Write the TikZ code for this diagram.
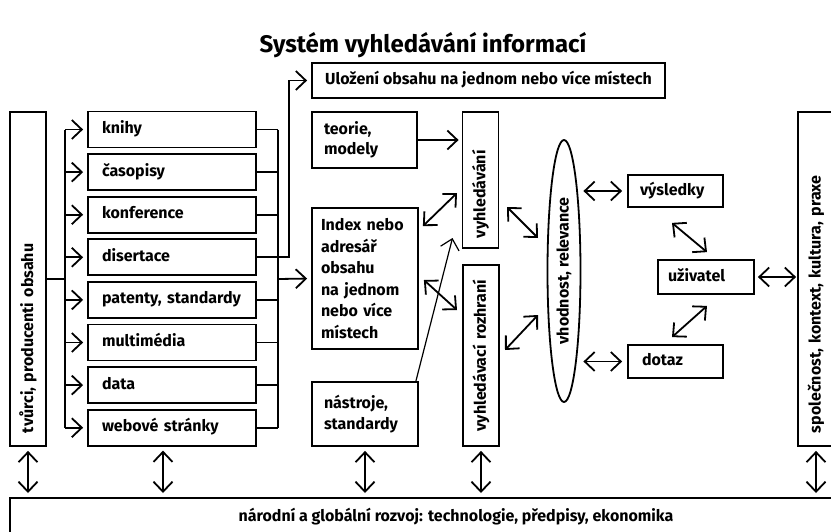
\documentclass[tikz,border=0pt]{standalone}
\usepackage{fontspec}
\setmainfont{Fira Sans}
\usetikzlibrary{arrows.meta,calc,shapes.geometric}
\pgfdeclarelayer{bg}
\pgfsetlayers{bg,main}
\tikzset{
        box/.style={draw, line width=1.8pt, inner sep=0pt, font=\bfseries\fontsize{16}{21.5}\selectfont},
        srcbox/.style={box, minimum width=168pt, minimum height=36pt, text width=140pt, inner xsep=14pt, align=left, text height=12pt, text depth=4pt},
        vbox/.style={box, rotate=90, minimum height=36pt, inner xsep=13pt, align=left},
        line/.style={line width=1.8pt},
        arr/.style={line, -{Straight Barb[length=10pt,width=19pt]}},
        dbl/.style={line, {Straight Barb[length=10pt,width=19pt]}-{Straight Barb[length=10pt,width=19pt]}}
}
\begin{document}
\begin{tikzpicture}[x=1pt, y=-1pt]
        \useasboundingbox (0,0) rectangle (831,531);
        \clip (0,0) rectangle (831,531);
        \node (title) [font=\bfseries\fontsize{24}{28}\selectfont] at (423,45) {Systém vyhledávání informací};
        \node (tvurci) [vbox, minimum width=334pt, text width=308pt] at (28,279) {tvůrci, producenti obsahu};
        \node (knihy) [srcbox] at (172,129.5) {knihy};
        \node (casop) [srcbox] at (172,172.1) {časopisy};
        \node (konf) [srcbox] at (172,214.7) {konference};
        \node (dis) [srcbox] at (172,257.3) {disertace};
        \node (pat) [srcbox] at (172,299.9) {patenty, standardy};
        \node (multi) [srcbox] at (172,342.5) {multimédia};
        \node (data) [srcbox] at (172,385.1) {data};
        \node (web) [srcbox] at (172,427.7) {webové stránky};
        \coordinate (lbus) at (65,279);
        \coordinate (rbus) at (278,279);
        \node (uloz) [box, minimum width=353pt, minimum height=35pt, text height=12pt, text depth=4pt] at (488.5,80.5) {Uložení obsahu na jednom nebo více místech};
        \node (teorie) [box, minimum width=105pt, minimum height=56pt, text width=81pt, inner xsep=12pt, align=left, font=\bfseries\fontsize{16}{19.5}\selectfont] at (364.5,140) {teorie,\\modely};
        \node (index) [box, minimum width=106pt, minimum height=141pt, text width=88pt, inner xsep=9pt, align=left] at (365,278.5) {Index nebo\\adresář\\obsahu\\na jednom\\nebo více\\místech};
        \node (nast) [box, minimum width=106pt, minimum height=64pt, text width=82pt, inner xsep=12pt, align=left] at (365,414) {nástroje,\\standardy};
        \node (vyhl) [vbox, minimum width=136pt, text width=116pt, inner xsep=10pt] at (480.5,180) {vyhledávání};
        \node (rozhr) [vbox, minimum width=181pt, text width=155pt, align=center] at (481,355.5) {vyhledávací rozhraní};
        \node (vhod) [box, ellipse, rotate=90, minimum width=262pt, minimum height=33pt] at (564,271) {vhodnost, relevance};
        \node (vys) [box, minimum width=95pt, minimum height=32pt, text width=71pt, inner xsep=12pt, align=left, text height=12pt, text depth=4pt] at (675.5,191) {výsledky};
        \node (uziv) [box, minimum width=96pt, minimum height=34pt, text width=76pt, inner xsep=10pt, align=left, text height=12pt, text depth=4pt] at (706,277) {uživatel};
        \node (dotaz) [box, minimum width=95pt, minimum height=33pt, text width=67pt, inner xsep=14pt, align=left, text height=12pt, text depth=4pt] at (675.5,361.5) {dotaz};
        \node (spol) [vbox, minimum width=334pt, text width=308pt] at (816,279) {společnost, kontext, kultura, praxe};
        \node (rozvoj) [box, anchor=north, minimum width=892pt, inner ysep=6pt, text height=18pt, text depth=40pt] at (456,497) {národní a globální rozvoj: technologie, předpisy, ekonomika};
        \begin{pgfonlayer}{bg}
                \draw[line] (tvurci.south) -- (lbus);
                \draw[line] (lbus |- knihy.west) -- (lbus |- web.west);
                \draw[arr, shorten >=4pt] (lbus |- knihy.west) -- (knihy.west);
                \draw[arr, shorten >=4pt] (lbus |- casop.west) -- (casop.west);
                \draw[arr, shorten >=4pt] (lbus |- konf.west) -- (konf.west);
                \draw[arr, shorten >=4pt] (lbus |- dis.west) -- (dis.west);
                \draw[arr, shorten >=4pt] (lbus |- pat.west) -- (pat.west);
                \draw[arr, shorten >=4pt] (lbus |- multi.west) -- (multi.west);
                \draw[arr, shorten >=4pt] (lbus |- data.west) -- (data.west);
                \draw[arr, shorten >=4pt] (lbus |- web.west) -- (web.west);
                \draw[line] (knihy.east) -- (rbus |- knihy.east);
                \draw[line] (casop.east) -- (rbus |- casop.east);
                \draw[line] (konf.east) -- (rbus |- konf.east);
                \draw[line] (pat.east) -- (rbus |- pat.east);
                \draw[line] (multi.east) -- (rbus |- multi.east);
                \draw[line] (data.east) -- (rbus |- data.east);
                \draw[line] (web.east) -- (rbus |- web.east);
                \draw[line] (rbus |- knihy.east) -- (rbus |- web.east);
                \draw[arr, shorten >=4pt] (rbus) -- (index.west);
                \draw[arr, shorten >=4pt] (dis.east) -- ++(32,0) |- (uloz.west);
                \draw[arr, shorten >=3pt] (teorie.east) -- (teorie.east -| vyhl.north);
                \draw[dbl] ($(index.north east)+(4,19)$) -- ($(vyhl.center)+(-23.5,13)$);
                \draw[dbl] ($(index.east)+(5,1.5)$) -- ($(rozhr.center)+(-24,-45.5)$);
                \draw[arr, line width=1.2pt] ($(nast.north east)+(-3,0)$) -- ($(vyhl.center)+(-28,58)$);
                \draw[dbl] ($(vyhl.center)+(26.5,27)$) -- ($(vhod.center)+(-26,-33)$);
                \draw[dbl] ($(rozhr.center)+(24,-5.5)$) -- ($(vhod.center)+(-26,44)$);
                \draw[dbl, shorten <=2pt, shorten >=5pt] (vhod.south |- vys.west) -- (vys.west);
                \draw[dbl, shorten <=2pt, shorten >=5pt] (vhod.south |- dotaz.west) -- (dotaz.west);
                \draw[dbl] ($(vys.south)+(-3.5,15)$) -- ($(uziv.north)+(1,-7)$);
                \draw[dbl] ($(uziv.south)+(1,11)$) -- ($(dotaz.north)+(-3.5,-7)$);
                \draw[dbl, shorten <=3pt, shorten >=1pt] (uziv.east) -- (uziv.east -| spol.north);
                \draw[dbl, shorten <=4pt, shorten >=4pt] (tvurci.west) -- (tvurci.west |- rozvoj.north);
                \draw[dbl, shorten <=4pt, shorten >=4pt] ([xshift=-9pt]web.south) -- ([xshift=-9pt]web.south |- rozvoj.north);
                \draw[dbl, shorten <=4pt, shorten >=4pt] (nast.south) -- (nast.south |- rozvoj.north);
                \draw[dbl, shorten <=4pt, shorten >=4pt] (rozhr.west) -- (rozhr.west |- rozvoj.north);
                \draw[dbl, shorten <=4pt, shorten >=4pt] (spol.west) -- (spol.west |- rozvoj.north);
        \end{pgfonlayer}
\end{tikzpicture}
\end{document}
